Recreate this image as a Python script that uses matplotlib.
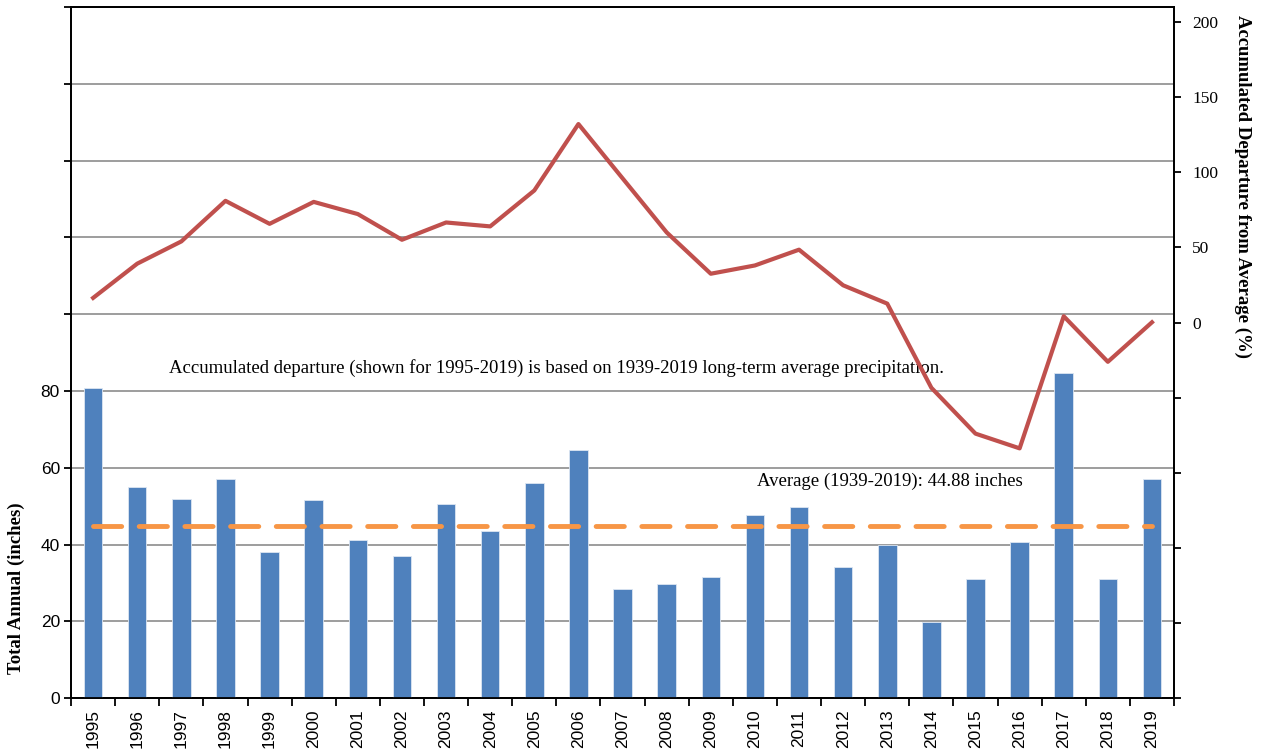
import numpy as np
from matplotlib import pyplot as plt

# data
years = [str(y) for y in range(1995, 2020)]
annual_inches = [80.9, 55.0, 51.8, 57.1, 38.0, 51.5, 41.2, 37.0, 50.5, 43.6,
                 56.1, 64.7, 28.4, 29.7, 31.7, 47.6, 49.9, 34.3, 39.8, 19.9,
                 31.0, 40.6, 84.8, 31.0, 57.1]
accum_departure = [16.4, 39.2, 54.0, 81.0, 65.7, 80.3, 72.2, 55.1, 66.6, 64.0,
                   87.9, 132.1, 96.0, 60.0, 32.5, 38.0, 48.5, 24.8, 12.6, -43.4,
                   -73.9, -83.7, 4.2, -26.1, 0.2]
long_term_avg = 44.88

serif = ['Liberation Serif', 'DejaVu Serif']
sans = ['Liberation Sans', 'DejaVu Sans']

fig = plt.figure(figsize=(12.62, 7.49), dpi=100)
ax = fig.add_axes([0.0563, 0.0677, 0.8740, 0.9230])
ax2 = ax.twinx()

x = np.arange(len(years))

# bars - total annual
ax.bar(x, annual_inches, width=0.42, color='#4F81BD', edgecolor='#DCE6F2',
       linewidth=0.6, zorder=3)
# average line
ax.plot(x, [long_term_avg] * len(years), color='#F79646', lw=3.5,
        dashes=(5.8, 3.6), dash_capstyle='round', zorder=4)

ax.set_xlim(-0.5, len(years) - 0.5)
ax.set_ylim(0, 180)
ax.set_yticks(range(0, 181, 20))
ax.set_yticklabels([str(v) if v <= 80 else '' for v in range(0, 181, 20)],
                   family=sans, fontsize=12.5)
ax.yaxis.grid(True, color='#8c8c8c', lw=1.2)
ax.set_axisbelow(True)

ax.set_xticks(x)
ax.set_xticklabels(years, rotation=90, family=sans, fontsize=12.5)
ax.set_xticks(np.arange(-0.5, len(years), 1), minor=True)
ax.tick_params(axis='x', which='major', length=0, pad=8)
ax.tick_params(axis='x', which='minor', length=6, width=1.3, direction='out')
ax.tick_params(axis='y', length=5, width=1.3, direction='out', pad=3)

# accumulated departure line
ax2.plot(x, accum_departure, color='#C0504D', lw=3, zorder=5)
ax2.set_ylim(-250, 210)
ax2.set_yticks(range(-250, 201, 50))
ax2.set_yticklabels([str(v) if v >= 0 else '' for v in range(-250, 201, 50)],
                    family=serif, fontsize=12.5)
ax2.tick_params(axis='y', length=5, width=1.3, direction='out', pad=8)

for a in (ax, ax2):
    for s in a.spines.values():
        s.set_linewidth(1.3)
        s.set_color('black')

fig.text(0.013, 0.215, 'Total Annual (inches)', rotation=90, family=serif,
         fontsize=13.5, fontweight='bold', ha='center', va='center')
fig.text(0.985, 0.751, 'Accumulated Departure from Average (%)', rotation=-90,
         family=serif, fontsize=13.5, fontweight='bold', ha='center', va='center')

ax.text(0.44, 0.478,
        'Accumulated departure (shown for 1995-2019) is based on 1939-2019 long-term average precipitation.',
        transform=ax.transAxes, family=serif, fontsize=13.5, ha='center', va='center')
ax.text(0.742, 0.314, 'Average (1939-2019): 44.88 inches',
        transform=ax.transAxes, family=serif, fontsize=13.5, ha='center', va='center')

fig.savefig('out.png', dpi=100)
